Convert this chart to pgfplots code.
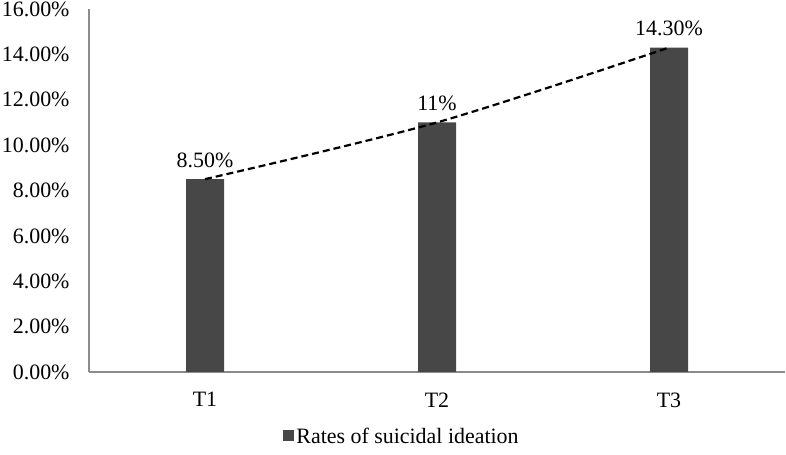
\documentclass[border=0pt]{standalone}
\usepackage{pgfplots}
\pgfplotsset{compat=1.18}
\usepackage{fontspec}
\setmainfont{Liberation Serif}
\definecolor{barcol}{HTML}{474747}
\definecolor{axcol}{HTML}{8C8C8C}
\begin{document}
\fontsize{22}{26}\selectfont
\begin{tikzpicture}[x=1bp,y=1bp]
\useasboundingbox (-89,-83) rectangle (697,372);
\begin{axis}[
  at={(0,0)}, anchor=south west,
  scale only axis, width=696bp, height=363bp,
  xmin=-0.5, xmax=2.5, ymin=0, ymax=16,
  axis lines=left,
  axis line style={draw=axcol, line width=1.2bp, -},
  major tick length=0pt,
  xtick={0,1,2}, xticklabels={T1,T2,T3},
  ytick={0,2,4,6,8,10,12,14,16},
  yticklabels={0.00\%,2.00\%,4.00\%,6.00\%,8.00\%,10.00\%,12.00\%,14.00\%,16.00\%},
  xticklabel style={yshift=-13bp},
  yticklabel style={xshift=-12bp},
  legend style={at={(0.4497,-0.179)}, anchor=center, draw=none, fill=none,
    legend cell align=left, font=\fontsize{22}{26}\selectfont},
  legend image code/.code={\fill[barcol] (0bp,-4bp) rectangle (11bp,7bp);},
  clip=false,
]
\addplot[ybar, bar width=38bp, fill=barcol, draw=none,
  nodes near coords, point meta=explicit symbolic,
  nodes near coords style={anchor=south, yshift=4bp, text=black, font=\fontsize{22}{26}\selectfont}]
  coordinates {(0,8.5) [8.50\%] (1,11) [11\%] (2,14.3) [14.30\%]};
\addlegendentry{Rates of suicidal ideation}
\addplot[black, line width=2.2bp, dash pattern=on 7bp off 4bp, smooth, forget plot]
  coordinates {(0,8.5) (1,11) (2,14.3)};
\end{axis}
\end{tikzpicture}
\end{document}
